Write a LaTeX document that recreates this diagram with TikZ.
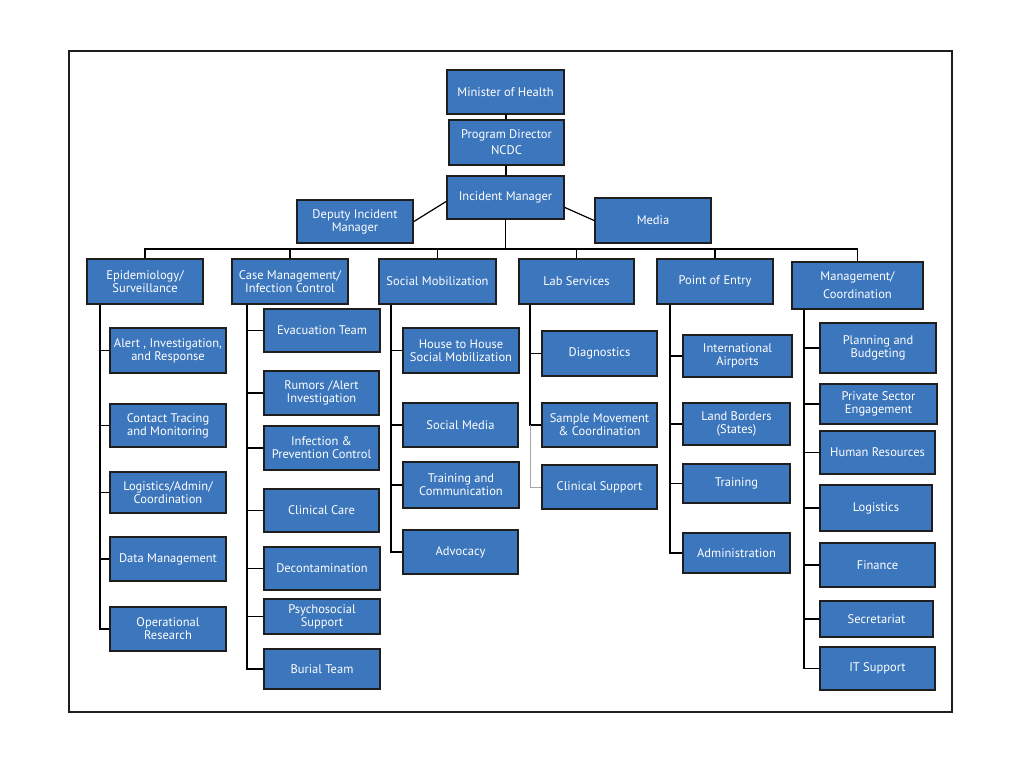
\documentclass[tikz,border=0pt]{standalone}
\usepackage{fontspec}
\setmainfont{PT Sans}
\begin{document}
\begin{tikzpicture}[x=1pt,y=-1pt,
  box/.style={draw=boxline,fill=boxblue,line width=1.8pt,text=white,align=center,
    inner sep=0pt,font=\fontsize{12.5}{13}\selectfont},
  conn/.style={draw=black,line width=1.8pt},
  thinconn/.style={draw=gray!70,line width=0.9pt}]
\definecolor{boxblue}{HTML}{3C76BC}
\definecolor{boxline}{HTML}{1E1E1E}
\useasboundingbox (0,0) rectangle (1024,767);
\draw[line width=1.8pt,draw=boxline] (69,51) rectangle (952,712);
\newcommand\bx[6]{\node[box,minimum width={(#4-#2)*1pt},minimum height={(#5-#3)*1pt}] (#1) at ({(#2+#4)/2},{(#3+#5)/2}) {#6};}
% top
\bx{moh}{447}{70}{564}{114}{Minister of Health}
\bx{pd}{449}{120}{564}{165}{Program Director\\[3pt]NCDC}
\bx{im}{447}{176}{564}{219}{Incident Manager}
\bx{dep}{297}{200}{413}{243}{Deputy Incident\\Manager}
\bx{media}{595}{198}{711}{243}{Media}
% level 2
\bx{epi}{87}{259}{203}{304}{Epidemiology/\\Surveillance}
\bx{case}{232}{259}{348}{304}{Case Management/\\Infection Control}
\bx{soc}{379}{259}{496}{304}{Social Mobilization}
\bx{lab}{519}{259}{634}{304}{Lab Services}
\bx{poe}{657}{259}{773}{304}{Point of Entry}
\bx{mgmt}{792}{262}{923}{309}{Management/\\[5pt]Coordination}
% epi column
\bx{alert}{110}{328}{226}{373}{Alert , Investigation,\\and Response}
\bx{contact}{110}{404}{226}{447}{Contact Tracing\\and Monitoring}
\bx{logi}{110}{472}{226}{513}{Logistics/Admin/\\Coordination}
\bx{data}{110}{537}{226}{581}{Data Management}
\bx{opres}{110}{607}{226}{651}{Operational\\Research}
% case column
\bx{evac}{264}{309}{380}{352}{Evacuation Team}
\bx{rumor}{264}{371}{379}{415}{Rumors /Alert\\Investigation}
\bx{ipc}{264}{426}{379}{470}{Infection \&\\Prevention Control}
\bx{clin}{264}{489}{379}{532}{Clinical Care}
\bx{decon}{264}{547}{380}{590}{Decontamination}
\bx{psy}{264}{599}{380}{634}{Psychosocial\\Support}
\bx{burial}{264}{649}{380}{689}{Burial Team}
% social column
\bx{house}{403}{328}{519}{373}{House to House\\Social Mobilization}
\bx{smedia}{403}{403}{518}{447}{Social Media}
\bx{train}{403}{462}{519}{508}{Training and\\Communication}
\bx{advo}{403}{530}{518}{574}{Advocacy}
% lab column
\bx{diag}{542}{331}{657}{376}{Diagnostics}
\bx{sample}{542}{403}{657}{447}{Sample Movement\\\& Coordination}
\bx{csup}{542}{465}{657}{509}{Clinical Support}
% poe column
\bx{intl}{683}{335}{792}{377}{International\\Airports}
\bx{land}{683}{403}{790}{445}{Land Borders\\(States)}
\bx{ptrain}{683}{464}{790}{503}{Training}
\bx{admin}{683}{533}{790}{573}{Administration}
% mgmt column
\bx{plan}{820}{323}{936}{373}{Planning and\\Budgeting}
\bx{priv}{820}{384}{937}{424}{Private Sector\\Engagement}
\bx{hr}{820}{431}{935}{474}{Human Resources}
\bx{mlog}{820}{485}{932}{531}{Logistics}
\bx{fin}{820}{543}{935}{587}{Finance}
\bx{sec}{820}{601}{933}{637}{Secretariat}
\bx{it}{820}{647}{935}{690}{IT Support}
% top connectors
\draw[conn] (moh) -- (pd);
\draw[conn] (pd) -- (im);
\draw[line width=1.2pt] (dep.east) -- ([yshift=-4pt]im.west);
\draw[line width=1.2pt] ([yshift=-10pt]im.east) -- (media.west);
\coordinate (bus) at (505.5,249);
\draw[conn] (im.south) -- (bus);
\draw[conn] (epi.north) |- (bus) -| (mgmt.north);
\foreach \n in {case,soc,lab,poe} \draw[conn] (\n.north) -- (\n.north |- bus);
% column trunks
\coordinate (epiT) at ([xshift=14pt]epi.south west);
\draw[conn] (epiT) |- (opres.west);
\foreach \n in {alert,contact,logi,data} \draw[conn] (\n.west) -- (\n.west -| epiT);
\coordinate (caseT) at ([xshift=16pt]case.south west);
\draw[conn] (caseT) |- (burial.west);
\foreach \n in {evac,rumor,ipc,clin,decon,psy} \draw[conn] (\n.west) -- (\n.west -| caseT);
\coordinate (socT) at ([xshift=13pt]soc.south west);
\draw[conn] (socT) |- (advo.west);
\foreach \n in {house,smedia,train} \draw[conn] (\n.west) -- (\n.west -| socT);
\coordinate (labT) at ([xshift=12pt]lab.south west);
\draw[conn] (labT) |- (sample.west);
\draw[conn] (diag.west) -- (diag.west -| labT);
\draw[thinconn] (sample.west -| labT) |- (csup.west);
\coordinate (poeT) at ([xshift=14pt]poe.south west);
\draw[conn] (poeT) |- (admin.west);
\foreach \n in {intl,land,ptrain} \draw[conn] (\n.west) -- (\n.west -| poeT);
\coordinate (mgmtT) at ([xshift=13pt]mgmt.south west);
\draw[conn] (mgmtT) |- (it.west);
\foreach \n in {plan,priv,hr,mlog,fin,sec} \draw[conn] (\n.west) -- (\n.west -| mgmtT);
\end{tikzpicture}
\end{document}
